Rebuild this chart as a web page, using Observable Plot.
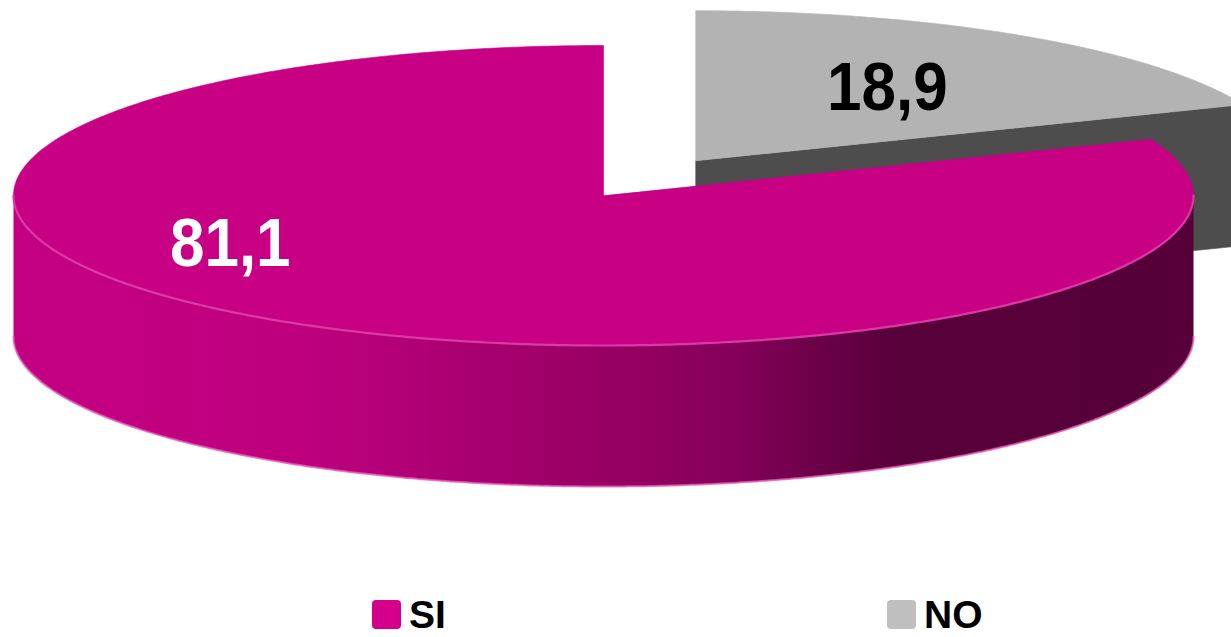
<!DOCTYPE html>
<html>
<head>
<meta charset="utf-8">
<script src="https://cdn.jsdelivr.net/npm/d3@7"></script>
<script src="https://cdn.jsdelivr.net/npm/@observablehq/plot@0.6"></script>
<style>
html, body { margin: 0; padding: 0; background: #fff; overflow: hidden; }
#wrap { position: relative; width: 1231px; height: 637px; }
#chart svg { display: block; }
.leg { position: absolute; top: 593px; height: 43px; display: flex; align-items: center;
  font-family: "Liberation Sans", Arial, sans-serif; font-weight: bold; font-size: 39px; line-height: normal; color: #000; }
.sw { width: 29px; height: 29px; border-radius: 4px; margin-right: 8px; }
</style>
</head>
<body>
<div id="wrap">
  <div id="chart"></div>
</div>
<script>
// ---- data ----
const categories = ["SI", "NO"];
const values = [81.1, 18.9];
const valueLabels = ["81,1", "18,9"];

// ---- styling / layout ----
const topColors = ["#C80083", "#B3B3B3"];
const faceColors = ["#8A005A", "#4D4D4D"];
const legendColors = ["#D4008C", "#BFBFBF"];
const labelColors = ["#FFFFFF", "#000000"];
const explode = [0, 0.28];
const labelAngle = [207, 56];
const labelRadius = [0.71, 0.58];
const legendLeft = [372, 887];
const START = 90;      // degrees, slices go counter-clockwise
const H = 0.94;        // pie thickness in y units

const rad = d => d * Math.PI / 180;
let acc = START;
const slices = values.map((v, i) => {
  const a0 = acc, a1 = acc + v / 100 * 360;
  acc = a1;
  const mid = rad((a0 + a1) / 2);
  return {i, a0, a1, ox: explode[i] * Math.cos(mid), oy: explode[i] * Math.sin(mid)};
});

function arcPts(s, a0, a1, dy = 0) {
  const n = Math.max(2, Math.ceil(Math.abs(a1 - a0) * 2));
  const pts = [];
  for (let k = 0; k <= n; k++) {
    const a = rad(a0 + (a1 - a0) * k / n);
    pts.push([s.ox + Math.cos(a), s.oy + Math.sin(a) + dy]);
  }
  return pts;
}

const marks = [];
const poly = (pts, fill, extra = {}) =>
  Plot.line(pts, {x: d => d[0], y: d => d[1], fill, stroke: fill, strokeWidth: 0.6, curve: "linear-closed", ...extra});

// back to front
const order = slices.slice().sort((a, b) => b.oy - a.oy);
for (const s of order) {
  const V = [s.ox, s.oy];
  // radial faces
  if (Math.cos(rad(s.a0)) > 1e-6) {
    const R = [s.ox + Math.cos(rad(s.a0)), s.oy + Math.sin(rad(s.a0))];
    marks.push(poly([V, R, [R[0], R[1] - H], [V[0], V[1] - H]], faceColors[s.i]));
  }
  if (Math.cos(rad(s.a1)) < -1e-6) {
    const R = [s.ox + Math.cos(rad(s.a1)), s.oy + Math.sin(rad(s.a1))];
    marks.push(poly([V, R, [R[0], R[1] - H], [V[0], V[1] - H]], faceColors[s.i]));
  }
  // outer wall (front half only)
  for (const k of [0, 360]) {
    const a = Math.max(s.a0, 180 + k), b = Math.min(s.a1, 360 + k);
    if (b > a) {
      const pts = arcPts(s, a, b).concat(arcPts(s, b, a, -H));
      marks.push(poly(pts, s.i === 0 ? "url(#sideGrad)" : faceColors[s.i], {strokeWidth: 0}));
      marks.push(Plot.line(arcPts(s, a, b, -H), {x: d => d[0], y: d => d[1], stroke: "#E55BB5", strokeWidth: 2, strokeOpacity: 0.8}));
    }
  }
  // top face
  marks.push(poly([V, ...arcPts(s, s.a0, s.a1)], topColors[s.i]));
  for (const k of [0, 360]) {
    const a = Math.max(s.a0, 180 + k), b = Math.min(s.a1, 360 + k);
    if (b > a && s.i === 0) {
      marks.push(Plot.line(arcPts(s, a, b), {x: d => d[0], y: d => d[1], stroke: "#D93AA6", strokeWidth: 2.2}));
    }
  }
}

const labelData = slices.map(s => ({
  x: s.ox + labelRadius[s.i] * Math.cos(rad(labelAngle[s.i])),
  y: s.oy + labelRadius[s.i] * Math.sin(rad(labelAngle[s.i])),
  t: valueLabels[s.i], c: labelColors[s.i]
}));
marks.push(Plot.text(labelData, {x: "x", y: "y", text: "t", fill: d => d.c, fontSize: 62, fontWeight: "bold",
  fontFamily: "Liberation Sans, Arial, sans-serif"}));

const svg = Plot.plot({
  width: 1231, height: 590, margin: 0,
  x: {domain: [-1, 1], range: [13, 1193], axis: null},
  y: {domain: [-1, 1], range: [345, 45], axis: null},
  color: {type: "identity"},
  style: {background: "transparent", overflow: "hidden"},
  marks
});

d3.select(svg).insert("defs", ":first-child").html(`
  <linearGradient id="sideGrad" x1="0" x2="1" y1="0" y2="0">
    <stop offset="0" stop-color="#C40082"/>
    <stop offset="0.24" stop-color="#BE007E"/>
    <stop offset="0.33" stop-color="#B20077"/>
    <stop offset="0.44" stop-color="#A0006A"/>
    <stop offset="0.54" stop-color="#92005F"/>
    <stop offset="0.62" stop-color="#820058"/>
    <stop offset="0.68" stop-color="#6C0048"/>
    <stop offset="0.75" stop-color="#58003A"/>
    <stop offset="1" stop-color="#550038"/>
  </linearGradient>`);

// slight vertical stretch of value labels, keeping their anchor
d3.select(svg).selectAll("text").each(function () {
  const t = d3.select(this);
  const tr = t.attr("transform");
  if (tr) {
    t.attr("transform", tr + " scale(1,1.1)");
  } else {
    const x = +t.attr("x") || 0, y = +t.attr("y") || 0;
    t.attr("transform", `translate(${x},${y}) scale(1,1.1) translate(${-x},${-y})`);
  }
});

document.getElementById("chart").appendChild(svg);

const wrap = document.getElementById("wrap");
categories.forEach((c, i) => {
  const d = document.createElement("div");
  d.className = "leg";
  d.style.left = legendLeft[i] + "px";
  d.innerHTML = `<span class="sw" style="background:${legendColors[i]}"></span><span>${c}</span>`;
  wrap.appendChild(d);
});
</script>
</body>
</html>
